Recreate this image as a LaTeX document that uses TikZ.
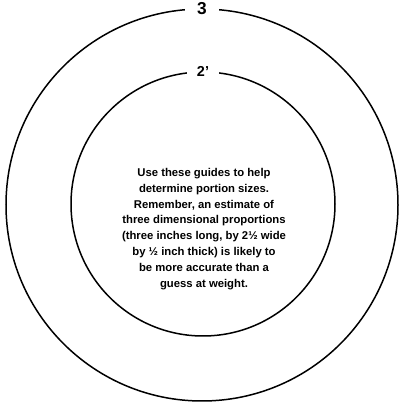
\documentclass[tikz,border=0pt]{standalone}
\usepackage{fontspec}
\setmainfont{Liberation Sans}
\usepackage{tikz}
\usetikzlibrary{positioning}
\definecolor{ink}  {HTML}{000000}
\definecolor{paper}{HTML}{FFFFFF}
\tikzset{
  ring/.style={circle,draw=ink,line width=1.5pt,inner sep=0pt},
  ringlabel/.style={fill=paper,inner xsep=12pt,inner ysep=1pt,font=\bfseries}
}
\begin{document}
\begin{tikzpicture}[x=1pt,y=1pt]
    \useasboundingbox[fill=paper] (0,0) rectangle (400,410);
    \node[ring,minimum size=392pt] (outer) at (202,205) {};
    \node[ring,minimum size=264pt] (inner) at (203,206) {};
    \node[ringlabel,font=\bfseries\LARGE] (three) at (outer.north) {3};
    \node[ringlabel,inner xsep=10pt,font=\bfseries\Large] (two) at (inner.north) {2'};
    \node[align=center,font=\bfseries\fontsize{11.3}{15.9}\selectfont] (guide) at (204,181) {Use these guides to help\\determine portion sizes.\\Remember, an estimate of\\three dimensional proportions\\(three inches long, by 2½ wide\\by ½ inch thick) is likely to\\be more accurate than a\\guess at weight.};
  \end{tikzpicture}
\end{document}
